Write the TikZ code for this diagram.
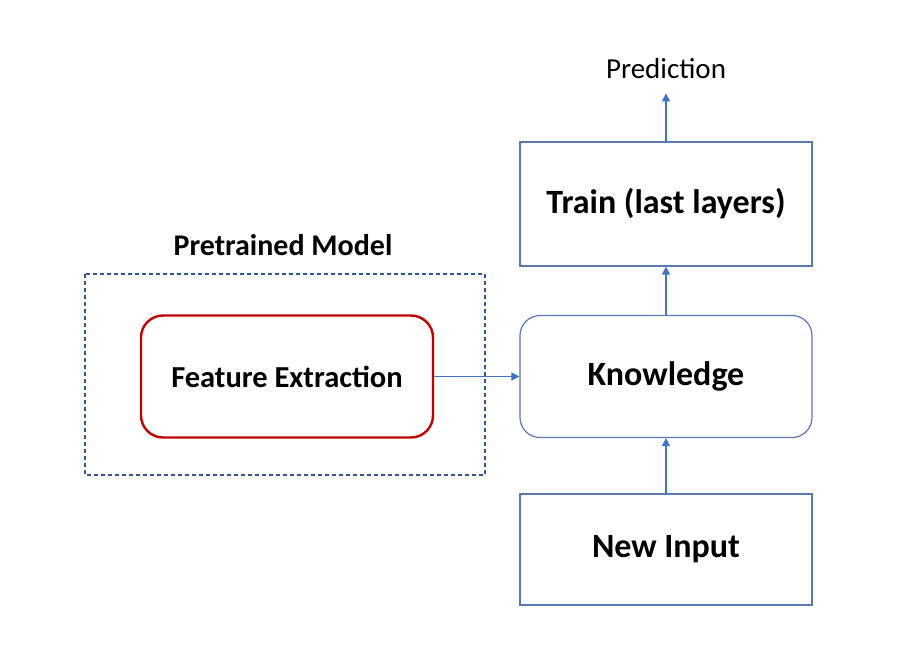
\documentclass[tikz,border=0pt]{standalone}
\usepackage{fontspec}
\setmainfont{Carlito}
\usetikzlibrary{arrows.meta}
\definecolor{lineblue}{RGB}{68,114,196}
\definecolor{boxblue}{RGB}{90,120,180}
\definecolor{dashblue}{RGB}{47,85,151}
\definecolor{boxred}{RGB}{192,0,0}
\tikzset{
  box/.style={draw=boxblue, line width=1.2pt, minimum width=292pt, align=center, inner sep=0pt, font=\fontsize{34}{40}\selectfont\bfseries},
  rbox/.style={box, rounded corners=20pt},
  redbox/.style={draw=boxred, line width=2.4pt, rounded corners=22pt, minimum width=292pt, minimum height=122pt, inner sep=0pt, font=\fontsize{30.5}{36}\selectfont\bfseries},
  conn/.style={draw=lineblue, line width=1.1pt, -{Triangle[length=8pt,width=8pt]}},
  dashbox/.style={draw=dashblue, line width=1.1pt, dash pattern=on 4pt off 3pt},
  lbl/.style={inner sep=0pt}
}
\begin{document}
\begin{tikzpicture}[x=1pt,y=-1pt]
\useasboundingbox (0,0) rectangle (915,661);
\draw[dashbox] (85,274) rectangle (485,475);
\node[lbl, anchor=base, font=\fontsize{30}{36}\selectfont\bfseries] (pm) at (283,255) {Pretrained Model};
\node[redbox] (fe) at (287,376.5) {Feature Extraction};
\node[rbox, minimum height=122pt] (know) at (666,376.5) {\raisebox{-2pt}{Knowledge}};
\node[box, minimum height=124pt] (train) at (666,204) {\raisebox{-4pt}{Train (last layers)}};
\node[box, minimum height=111pt] (input) at (666,549.5) {\raisebox{-3pt}{New Input}};
\node[anchor=base, inner xsep=0pt, inner ysep=15pt, font=\fontsize{29}{34}\selectfont] (pred) at (666,78) {Prediction};
\draw[conn] (fe.east) -- (know.west);
\draw[conn] (input.north) -- (know.south);
\draw[conn] (know.north) -- (train.south);
\draw[conn] (train.north) -- (pred.south);
\end{tikzpicture}
\end{document}
